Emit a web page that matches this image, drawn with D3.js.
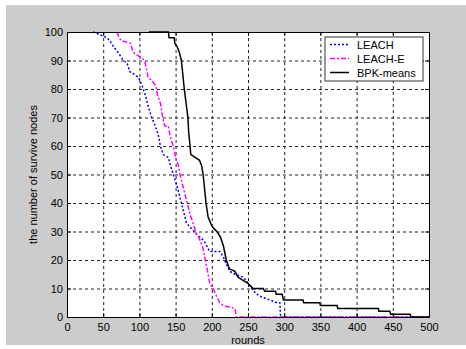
<!DOCTYPE html>
<html>
<head>
<meta charset="utf-8">
<script src="https://cdn.jsdelivr.net/npm/d3@7"></script>
<style>
  body { margin: 0; background: #fff; }
  svg { display: block; font-family: "Liberation Sans", Arial, sans-serif; }
  .grid line { stroke: #222; stroke-dasharray: 3,3; }
  .grid path { display: none; }
  .axis path, .axis line { stroke: #000; }
  .axis text { font-size: 11px; fill: #000; }
</style>
</head>
<body>
<div id="chart"></div>
<script>
const xTicks = [0, 50, 100, 150, 200, 250, 300, 350, 400, 450, 500];
const yTicks = [0, 10, 20, 30, 40, 50, 60, 70, 80, 90, 100];
const seriesNames = ['LEACH', 'LEACH-E', 'BPK-means'];

// [round, surviving nodes]
const leach = [
  [36,100],[46,99],[55,98],[59,97],[64,95],[70,93],[78,90],[83,89],[87,86],[94,85],
  [99,84],[104,81],[108,78],[112,74],[117,70],[122,67],[126,64],[129,60],[133,57],[140,56],
  [143,53],[147,50],[152,46],[156,42],[161,37],[165,33],[172,31],[179,29],[184,28],[188,27],
  [191,26],[197,23],[211,23],[216,21],[221,18],[225,16],[232,15],[243,14],[250,12],[255,10],
  [262,8],[269,7],[280,6],[290,5],[294,5],[295,0],[500,0]
];
const leachE = [
  [69,100],[72,98],[75,97],[88,96],[91,93],[96,92],[103,91],[107,90],[109,88],[112,84],
  [117,83],[123,81],[125,78],[129,75],[133,69],[135,67],[140,67],[142,64],[144,62],[147,60],
  [151,55],[154,53],[156,50],[161,45],[165,41],[170,36],[174,33],[179,29],[182,28],[188,24],
  [191,20],[195,15],[197,12],[202,10],[207,7],[211,5],[216,4],[232,3],[234,0],[500,0]
];
const bpk = [
  [113,100],[140,100],[141,98],[148,98],[149,96],[152,95],[155,93],[158,90],[162,80],[167,70],
  [168,65],[170,60],[171,57],[177,56],[183,55],[186,53],[188,50],[192,40],[195,35],[200,32],
  [203,31],[207,30],[212,28],[216,25],[220,20],[224,17],[232,16],[236,14],[242,13],[249,12],
  [253,11],[257,10],[271,10],[273,9],[288,9],[289,8],[297,8],[298,7],[299,6],[326,6],
  [327,5],[349,5],[350,4],[373,4],[374,3],[430,3],[431,2],[446,2],[447,1],[474,1],
  [475,0],[500,0]
];

const width = 466, height = 349;
const plot = {left: 67, right: 429, top: 32, bottom: 317};

const svg = d3.select('#chart').append('svg')
    .attr('width', width)
    .attr('height', height);

// figure background
svg.append('rect')
    .attr('x', 6).attr('y', 5)
    .attr('width', width - 6).attr('height', 340)
    .attr('fill', '#cccccc');

const x = d3.scaleLinear().domain([0, 500]).range([plot.left, plot.right]);
const y = d3.scaleLinear().domain([0, 100]).range([plot.bottom, plot.top]);

svg.append('rect')
    .attr('x', plot.left).attr('y', plot.top)
    .attr('width', plot.right - plot.left).attr('height', plot.bottom - plot.top)
    .attr('fill', '#fff');

// grid
svg.append('g')
    .attr('class', 'grid')
    .attr('transform', `translate(0,${plot.bottom})`)
    .call(d3.axisBottom(x).tickValues(xTicks.slice(1, -1)).tickSize(-(plot.bottom - plot.top)).tickFormat(''));
svg.append('g')
    .attr('class', 'grid')
    .attr('transform', `translate(${plot.left},0)`)
    .call(d3.axisLeft(y).tickValues(yTicks.slice(1, -1)).tickSize(-(plot.right - plot.left)).tickFormat(''));

// lines
const line = d3.line().x(d => x(d[0])).y(d => y(d[1]));
const styles = [
    {data: leach, color: '#0000ff', dash: '2,2', w: 1.5},
    {data: leachE, color: '#ff00ff', dash: '5,2,2,2', w: 1.5},
    {data: bpk, color: '#000000', dash: null, w: 1.5}
];
styles.forEach(s => {
    svg.append('path')
        .datum(s.data)
        .attr('fill', 'none')
        .attr('stroke', s.color)
        .attr('stroke-width', s.w)
        .attr('stroke-dasharray', s.dash)
        .attr('d', line);
});

// axes with ticks pointing inside
svg.append('g')
    .attr('class', 'axis')
    .attr('transform', `translate(0,${plot.bottom})`)
    .call(d3.axisBottom(x).tickValues(xTicks).tickSizeInner(-4).tickSizeOuter(0).tickPadding(6));
svg.append('g')
    .attr('class', 'axis')
    .attr('transform', `translate(${plot.left},0)`)
    .call(d3.axisLeft(y).tickValues(yTicks).tickSizeInner(-4).tickSizeOuter(0).tickPadding(4));
svg.append('g')
    .attr('class', 'axis')
    .attr('transform', `translate(0,${plot.top})`)
    .call(d3.axisTop(x).tickValues(xTicks).tickSizeInner(-4).tickSizeOuter(0).tickFormat(''));
svg.append('g')
    .attr('class', 'axis')
    .attr('transform', `translate(${plot.right},0)`)
    .call(d3.axisRight(y).tickValues(yTicks).tickSizeInner(-4).tickSizeOuter(0).tickFormat(''));

// axis titles
svg.append('text')
    .attr('x', (plot.left + plot.right) / 2)
    .attr('y', 344)
    .attr('text-anchor', 'middle')
    .attr('font-size', 11)
    .text('rounds');
svg.append('text')
    .attr('transform', `translate(37,${(plot.top + plot.bottom) / 2}) rotate(-90)`)
    .attr('text-anchor', 'middle')
    .attr('font-size', 11)
    .text('the number of survive nodes');

// legend
const legend = svg.append('g').attr('transform', 'translate(325,37)');
legend.append('rect')
    .attr('width', 98).attr('height', 44)
    .attr('fill', '#fff')
    .attr('stroke', '#333');
seriesNames.forEach((name, i) => {
    const ly = 7.5 + i * 14;
    legend.append('line')
        .attr('x1', 5).attr('x2', 24)
        .attr('y1', ly).attr('y2', ly)
        .attr('stroke', styles[i].color)
        .attr('stroke-width', styles[i].w)
        .attr('stroke-dasharray', styles[i].dash);
    legend.append('text')
        .attr('x', 32).attr('y', ly + 4)
        .attr('font-size', 11)
        .text(name);
});
</script>
</body>
</html>
